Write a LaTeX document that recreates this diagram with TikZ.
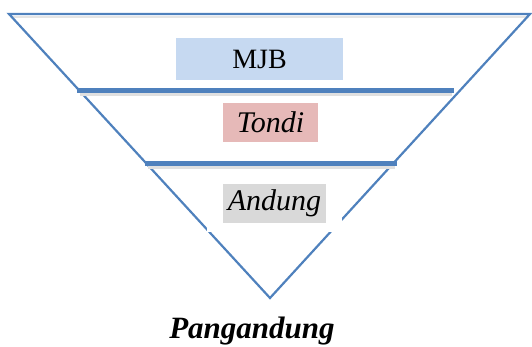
\documentclass[tikz,border=0pt]{standalone}
\usepackage{fontspec}
\setmainfont{Liberation Serif}
\definecolor{edgeblue}{HTML}{4F81BD}
\definecolor{mjbblue}{HTML}{C6D9F1}
\definecolor{tondipink}{HTML}{E6B9B8}
\definecolor{andunggrey}{HTML}{D9D9D9}
\tikzset{
  layerbox/.style={inner sep=0pt, minimum height=40pt, text=black},
  divider/.style={edgeblue, line width=4.6pt},
  dividershadow/.style={black!12, line width=3pt},
}
\begin{document}
\begin{tikzpicture}[x=1pt, y=-1pt]
        \useasboundingbox (0,0) rectangle (532,347);
        % the inverted triangle
        \coordinate (topleft) at (9,14);
        \coordinate (topright) at (530,14);
        \coordinate (tip) at (270,298);
        \draw[black!10, line width=2pt] (11,17) -- (528,17);
        \draw[edgeblue, line width=2.2pt, line join=miter] (topleft) -- (topright) -- (tip) -- cycle;
        % the two thick layer lines, with a faint shadow
        \draw[dividershadow] (80,95) -- (452,95);
        \draw[dividershadow] (148,168) -- (395,168);
        \draw[divider] (77,90.8) -- (454,90.8);
        \draw[divider] (145,163.5) -- (397,163.5);
        % white patch behind the lowest label
        \fill[white] (207,205) rectangle (342,232);
        % labels of the layers
        \node[layerbox, fill=mjbblue, minimum width=167pt, minimum height=42pt] (mjb) at (259.5,59)
            {\fontsize{28}{32}\selectfont MJB};
        \node[layerbox, fill=tondipink, minimum width=95pt, minimum height=39pt] (tondi) at (270.5,122.5)
            {\fontsize{30}{34}\selectfont\itshape Tondi};
        \node[layerbox, fill=andunggrey, minimum width=103pt, minimum height=39pt] (andung) at (274.5,203.5)
            {\fontsize{30}{34}\selectfont\itshape Andung};
        % caption under the tip
        \node[inner sep=0pt, anchor=base] (pangandung) at (252,338)
            {\fontsize{31}{36}\selectfont\bfseries\itshape Pangandung};
\end{tikzpicture}
\end{document}
